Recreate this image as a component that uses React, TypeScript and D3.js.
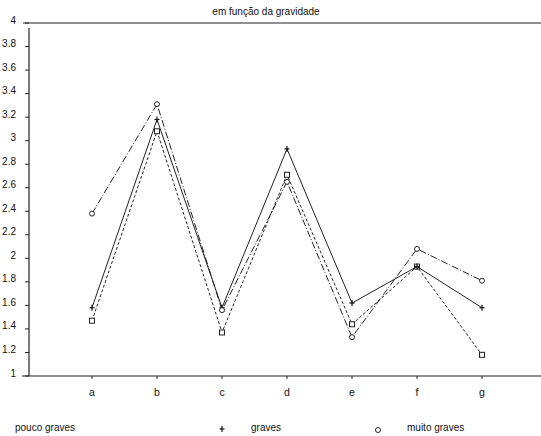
import React from "react";
import * as d3 from "d3";

const categories = ["a", "b", "c", "d", "e", "f", "g"];
const poucoGraves = [1.47, 3.08, 1.37, 2.71, 1.44, 1.93, 1.18];
const graves = [1.58, 3.18, 1.58, 2.93, 1.62, 1.93, 1.58];
const muitoGraves = [2.38, 3.31, 1.56, 2.65, 1.33, 2.08, 1.81];
const yTicks = [1, 1.2, 1.4, 1.6, 1.8, 2, 2.2, 2.4, 2.6, 2.8, 3, 3.2, 3.4, 3.6, 3.8, 4];
const title = "em função da gravidade";
const seriesNames = ["pouco graves", "graves", "muito graves"];

const W = 541;
const H = 436;
const FONT = "'Liberation Sans', Arial, sans-serif";

export default function App() {
  const x = d3.scalePoint<string>().domain(categories).range([92, 482]);
  const y = d3.scaleLinear().domain([1, 4]).range([376, 23]);
  const line = d3
    .line<number>()
    .x((_, i) => x(categories[i]) as number)
    .y((d) => y(d));

  const series = [
    { name: seriesNames[0], values: poucoGraves, dash: "3,2", marker: "square" },
    { name: seriesNames[1], values: graves, dash: "", marker: "plus" },
    { name: seriesNames[2], values: muitoGraves, dash: "7,2,1,2", marker: "circle" },
  ];

  const drawMarker = (type: string, cx: number, cy: number, key: string) => {
    if (type === "square")
      return <rect key={key} x={cx - 2.5} y={cy - 2.5} width={5} height={5} fill="white" stroke="#222" strokeWidth={1} />;
    if (type === "plus")
      return (
        <g key={key} stroke="#111" strokeWidth={1.2}>
          <line x1={cx - 2.5} x2={cx + 2.5} y1={cy} y2={cy} />
          <line x1={cx} x2={cx} y1={cy - 3} y2={cy + 3} />
        </g>
      );
    return <circle key={key} cx={cx} cy={cy} r={2.5} fill="white" stroke="#222" strokeWidth={1} />;
  };

  return (
    <svg width={W} height={H} style={{ position: "absolute", left: 0, top: 0, background: "white" }} fontFamily={FONT}>
      <rect width={W} height={H} fill="white" />
      <text x={266} y={15} textAnchor="middle" fontSize={10} fill="#111">{title}</text>
      {/* frame */}
      <line x1={23} x2={541} y1={y(4)} y2={y(4)} stroke="#222" strokeWidth={1.2} />
      <line x1={22} x2={541} y1={y(1)} y2={y(1)} stroke="#222" strokeWidth={1.2} />
      <line x1={29} x2={29} y1={y(4) + 5} y2={y(1)} stroke="#222" strokeWidth={1.2} />
      {/* y ticks */}
      {yTicks.map((t) => (
        <g key={t}>
          <line x1={25} x2={29} y1={y(t)} y2={y(t)} stroke="#222" />
          <text x={16} y={y(t) - 3} dy="0.35em" textAnchor="end" fontSize={10} fill="#111">
            {d3.format("~g")(t)}
          </text>
        </g>
      ))}
      {/* x ticks */}
      {categories.map((c) => (
        <g key={c}>
          <line x1={x(c)} x2={x(c)} y1={y(1)} y2={y(1) + 3} stroke="#222" />
          <text x={x(c)} y={396} textAnchor="middle" fontSize={10.5} fill="#111">{c}</text>
        </g>
      ))}
      {/* series */}
      {series.map((s) => (
        <g key={s.name}>
          <path d={line(s.values) || ""} fill="none" stroke="#222" strokeWidth={1} strokeDasharray={s.dash || undefined} />
          {s.values.map((v, i) => drawMarker(s.marker, x(categories[i]) as number, y(v), s.name + i))}
        </g>
      ))}
      {/* legend */}
      <text x={15} y={431} fontSize={10} fill="#111">{seriesNames[0]}</text>
      {drawMarker("plus", 222, 429, "lg1")}
      <text x={251} y={431} fontSize={10} fill="#111">{seriesNames[1]}</text>
      {drawMarker("circle", 378, 430, "lg2")}
      <text x={407} y={431} fontSize={10} fill="#111">{seriesNames[2]}</text>
    </svg>
  );
}
